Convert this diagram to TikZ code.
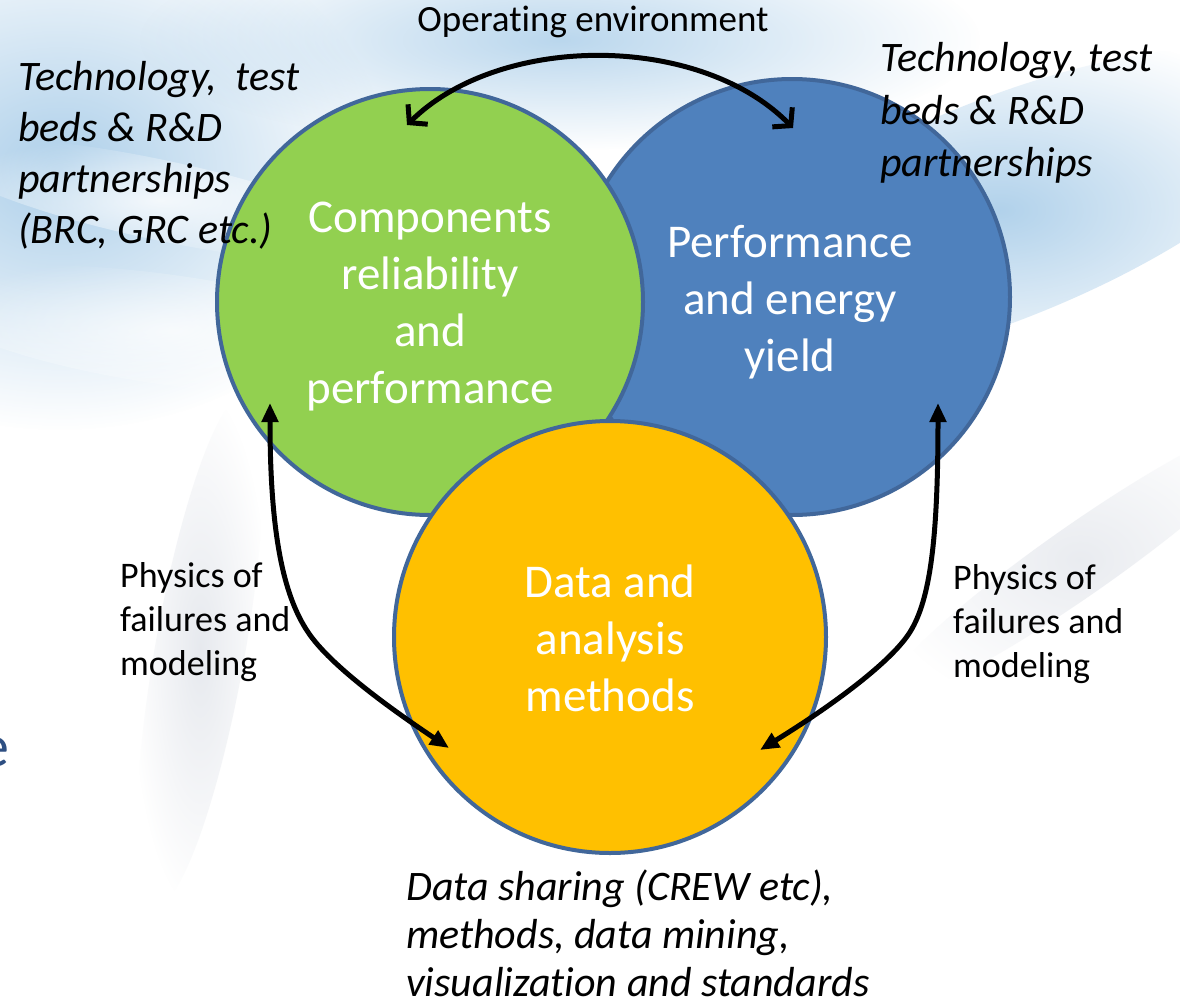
\documentclass[tikz,border=0pt]{standalone}
\usepackage{fontspec}
\setmainfont{Carlito}[Ligatures=NoCommon]
\usetikzlibrary{arrows.meta,fadings}
\definecolor{ringc}{HTML}{41679A}
\definecolor{cgreen}{HTML}{92D050}
\definecolor{cblue}{HTML}{4F81BD}
\definecolor{cyellow}{HTML}{FFC000}
\definecolor{bgblue}{HTML}{A9CDE9}
\definecolor{bggrey}{HTML}{C9CFDA}
\definecolor{slideblue}{HTML}{2E4F82}
\tikzfading[name=softblob, inner color=transparent!0, outer color=transparent!100]
\begin{document}
\begin{tikzpicture}[x=1pt,y=-1pt,
  bubble/.style={circle, draw=ringc, line width=4pt, inner sep=0pt},
  intext/.style={text=white, font=\fontsize{47}{57}\selectfont, align=center, inner sep=0pt},
  note/.style={font=\fontsize{36}{44}\selectfont, align=left, inner sep=0pt, anchor=west},
  inote/.style={font=\itshape\fontsize{42}{51}\selectfont, align=left, inner sep=0pt, anchor=west},
  link/.style={line width=5pt,
    {Triangle[length=19pt,width=16pt]}-{Triangle[length=19pt,width=16pt]}},
  envlink/.style={line width=5pt, line cap=round,
    {Straight Barb[length=12pt,width=28pt,line width=5pt]}-{Straight Barb[length=12pt,width=28pt,line width=5pt]}},
  blob/.style={path fading=softblob}
]
\useasboundingbox (0,0) rectangle (1180,1001);
\clip (0,0) rectangle (1180,1001);
% background
\fill[white] (0,0) rectangle (1180,1001);
\fill[bgblue, blob, opacity=0.95] (60,170) ellipse [x radius=330, y radius=260];
\fill[bgblue, blob, opacity=0.8] (560,40) ellipse [x radius=420, y radius=110];
\fill[bgblue, blob, opacity=0.9, rotate around={22:(1000,210)}] (1000,210) ellipse [x radius=340, y radius=110];
\fill[white, blob, opacity=0.8, rotate around={-12:(160,200)}] (160,200) ellipse [x radius=230, y radius=40];
\fill[white, blob, opacity=0.7, rotate around={-8:(170,330)}] (170,330) ellipse [x radius=250, y radius=55];
\fill[bggrey, blob, opacity=0.45, rotate around={80:(200,650)}] (200,650) ellipse [x radius=260, y radius=45];
\fill[bggrey, blob, opacity=0.4, rotate around={35:(1080,560)}] (1080,560) ellipse [x radius=240, y radius=35];
\node[text=slideblue, font=\fontsize{60}{70}\selectfont, inner sep=0pt] (stray) at (-6,752) {e};

% circles
\node[bubble, fill=cblue, minimum size=436pt] (B) at (792,297) {};
\node[bubble, fill=cgreen, minimum size=426pt] (G) at (430,302) {};
\node[bubble, fill=cyellow, minimum size=432pt] (Y) at (610,637) {};
\node[intext] (Bt) at (790,302) {Performance\\and energy\\yield};
\node[intext] (Gt) at (430,307) {Components\\reliability\\and\\performance};
\node[intext] (Yt) at (610,638) {Data and\\analysis\\methods};

% texts
\node[font=\fontsize{37}{44}\selectfont, inner sep=0pt] (env) at (593,22) {Operating environment};
\node[inote] (techL) at (18,155) {Technology,\ \ test\\beds \& R\&D\\partnerships\\(BRC, GRC etc.)};
\node[inote, font=\itshape\fontsize{42}{52.5}\selectfont] (techR) at (880,113) {Technology, test\\beds \& R\&D\\partnerships};
\node[note] (physL) at (120,622) {Physics of\\failures and\\modeling};
\node[note] (physR) at (953,624) {Physics of\\failures and\\modeling};
\node[inote, font=\itshape\fontsize{42}{48}\selectfont] (share) at (406,933)
  {Data sharing (CREW etc),\\methods, data mining,\\visualization and standards};

% connector end points
\coordinate (gTop) at (407,125);
\coordinate (bTop) at (793,128);
\coordinate (gLow) at (270,403);
\coordinate (yLeft) at (449,748);
\coordinate (bLow) at (938,403);
\coordinate (yRight) at (760,750);

\draw[envlink] (gTop) .. controls (500,33) and (700,33) .. (bTop);
\draw[link] (gLow) .. controls (270,540) and (285,600) .. (310,635)
  .. controls (335,670) and (400,715) .. (yLeft);
\draw[link] (bLow) .. controls (938,540) and (930,600) .. (910,632)
  .. controls (890,664) and (825,710) .. (yRight);
\end{tikzpicture}
\end{document}
